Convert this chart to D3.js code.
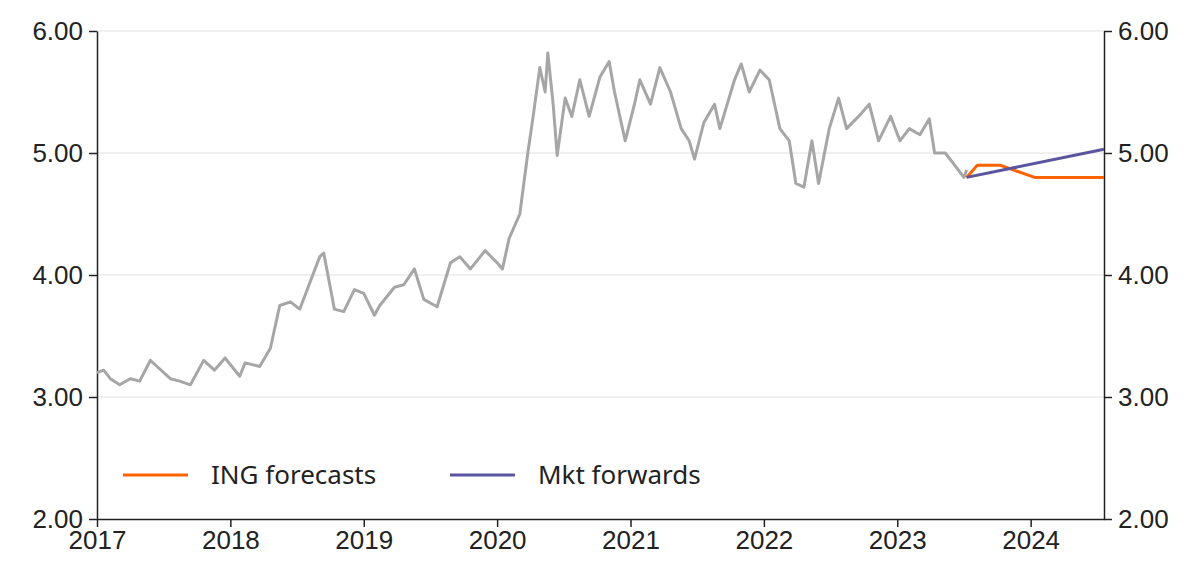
<!DOCTYPE html>
<html><head><meta charset="utf-8">
<script src="https://cdn.jsdelivr.net/npm/d3@7"></script>
<style>body{margin:0;background:#fff;font-family:"Noto Sans",sans-serif}</style>
</head><body><svg id="c" width="1200" height="588"></svg>
<script>
// history (decimal year, value)
const histYears = [2017.0,2017.05,2017.1,2017.17,2017.25,2017.32,2017.4,2017.45,2017.55,2017.62,2017.7,2017.8,2017.88,2017.96,2018.07,2018.11,2018.22,2018.3,2018.37,2018.45,2018.52,2018.67,2018.7,2018.78,2018.85,2018.93,2019.0,2019.08,2019.12,2019.23,2019.3,2019.38,2019.45,2019.55,2019.65,2019.72,2019.8,2019.91,2020.0,2020.04,2020.09,2020.17,2020.23,2020.27,2020.32,2020.36,2020.38,2020.42,2020.45,2020.51,2020.56,2020.62,2020.69,2020.77,2020.84,2020.88,2020.96,2021.03,2021.07,2021.15,2021.22,2021.3,2021.38,2021.44,2021.48,2021.55,2021.63,2021.67,2021.78,2021.83,2021.89,2021.97,2022.04,2022.12,2022.19,2022.24,2022.3,2022.36,2022.41,2022.49,2022.56,2022.62,2022.71,2022.79,2022.86,2022.95,2023.02,2023.09,2023.17,2023.24,2023.28,2023.36,2023.43,2023.5,2023.52];
const histValues = [3.20,3.22,3.15,3.10,3.15,3.13,3.30,3.25,3.15,3.13,3.10,3.30,3.22,3.32,3.17,3.28,3.25,3.40,3.75,3.78,3.72,4.15,4.18,3.72,3.70,3.88,3.85,3.67,3.75,3.90,3.92,4.05,3.80,3.74,4.10,4.15,4.05,4.20,4.10,4.05,4.30,4.50,5.00,5.30,5.70,5.50,5.82,5.40,4.98,5.45,5.30,5.60,5.30,5.62,5.75,5.50,5.10,5.40,5.60,5.40,5.70,5.50,5.20,5.10,4.95,5.25,5.40,5.20,5.60,5.73,5.50,5.68,5.60,5.20,5.10,4.75,4.72,5.10,4.75,5.20,5.45,5.20,5.30,5.40,5.10,5.30,5.10,5.20,5.15,5.28,5.00,5.00,4.90,4.80,4.86];
const ingYears = [2023.52,2023.6,2023.77,2024.03,2024.55];
const ingValues = [4.80,4.90,4.90,4.80,4.80];
const fwdYears = [2023.52,2024.55];
const fwdValues = [4.80,5.03];
const yTicks = [2,3,4,5,6];
const xTicks = [2017,2018,2019,2020,2021,2022,2023,2024];

const svg = d3.select("#c");
const x = d3.scaleLinear().domain([2017, 2024.55]).range([97, 1104]);
const y = d3.scaleLinear().domain([2, 6]).range([519, 31]);
const fmt = d => d.toFixed(2);

svg.append("g").selectAll("line").data(yTicks.slice(1)).join("line")
  .attr("x1", 97).attr("x2", 1104).attr("y1", y).attr("y2", y)
  .attr("stroke", "#ebebeb").attr("stroke-width", 1.5);

const style = g => { g.selectAll("text").attr("font-size", 26).attr("fill", "#222");
  g.selectAll("line,path").attr("stroke", "#222").attr("stroke-width", 1.5); };
svg.append("g").attr("transform", "translate(97,0)")
  .call(d3.axisLeft(y).tickValues(yTicks).tickFormat(fmt).tickSize(8).tickSizeOuter(0).tickPadding(6)).call(style);
svg.append("g").attr("transform", "translate(1104,0)")
  .call(d3.axisRight(y).tickValues(yTicks).tickFormat(fmt).tickSize(8).tickSizeOuter(0).tickPadding(6)).call(style);
svg.append("g").attr("transform", "translate(0,519)")
  .call(d3.axisBottom(x).tickValues(xTicks).tickFormat(d => d).tickSize(8).tickSizeOuter(0).tickPadding(4)).call(style);

const line = d3.line().x(d => x(d[0])).y(d => y(d[1]));
const draw = (xs, vs, c) => svg.append("path").datum(xs.map((v, i) => [v, vs[i]]))
  .attr("d", line).attr("fill", "none").attr("stroke", c).attr("stroke-width", 3).attr("stroke-linejoin", "round");
draw(histYears, histValues, "#a6a6a6");
draw(ingYears, ingValues, "#ff6200");
draw(fwdYears, fwdValues, "#5a559e");

const legend = [["ING forecasts", "#ff6200", 123], ["Mkt forwards", "#5a559e", 450]];
legend.forEach(([t, c, lx]) => {
  svg.append("line").attr("x1", lx).attr("x2", lx + 65).attr("y1", 475).attr("y2", 475).attr("stroke", c).attr("stroke-width", 3);
  svg.append("text").attr("x", lx + 88).attr("y", 484).attr("font-size", 26).attr("fill", "#222").text(t);
});
</script></body></html>
